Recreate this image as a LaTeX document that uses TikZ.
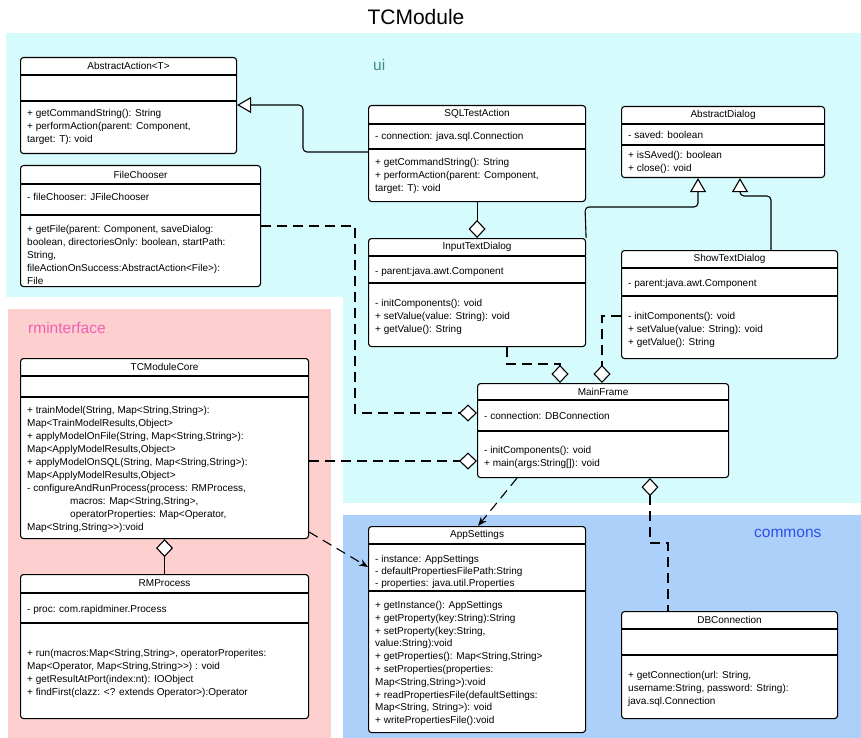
\documentclass[tikz,border=0pt]{standalone}
\usepackage{fontspec}
\setmainfont[Ligatures=TeXOff]{Liberation Sans}
\usetikzlibrary{arrows.meta}
\definecolor{uibg}{RGB}{214,251,253}
\definecolor{rmbg}{RGB}{253,207,207}
\definecolor{cmbg}{RGB}{172,208,250}
\definecolor{uitext}{RGB}{60,140,140}
\definecolor{rmtext}{RGB}{240,95,180}
\definecolor{cmtext}{RGB}{45,80,235}

\begin{document}
\begin{tikzpicture}[x=1pt, y=-1pt,
  classbox/.style 2 args={draw, fill=white, line width=1.1pt, rounded corners=3pt,
    anchor=north west, inner sep=0pt, minimum width=#1pt, minimum height=#2pt},
  classname/.style={font=\fontsize{10}{12}\selectfont, inner sep=0pt},
  members/.style={anchor=north west, align=left, inner sep=0pt,
    font=\fontsize{10}{13}\selectfont},
  rule/.style={line width=1.1pt},
  pkg/.style={font=\fontsize{15.5}{18}\selectfont, anchor=west, inner sep=0pt},
  assoc/.style={line width=1.1pt},
  dep/.style={line width=1.1pt, dash pattern=on 10pt off 6pt},
  inherit/.style={line width=1.1pt, rounded corners=4pt,
    -{Triangle[fill=white, length=14pt, width=16pt]}},
  diamondend/.style={-{Diamond[fill=white, length=18pt, width=17pt]}},
  diamondstart/.style={{Diamond[fill=white, length=18pt, width=17pt]}-},
  uses/.style={-{Stealth[length=9pt, width=7pt]}},
]
\useasboundingbox (0,0) rectangle (861,738);

% Package areas
\fill[uibg] (6,33) rectangle (861,503);
\fill[white] (0,297) rectangle (343,738);
\fill[rmbg] (8,309) rectangle (331,738);
\fill[cmbg] (343,515) rectangle (861,738);

\node[font=\fontsize{21}{25}\selectfont, inner sep=0pt] (title) at (416,17) {TCModule};
\node[pkg, text=uitext] (uilabel) at (373,65) {ui};
\node[pkg, text=rmtext] (rmlabel) at (28,328) {rminterface};
\node[pkg, text=cmtext] (cmlabel) at (754,533) {commons};

% ui
\node[classbox={216}{96}] (absaction) at (20,57) {};
\node[classname] (absaction-t) at (absaction.north |- 0,66) {AbstractAction<T>};
\draw[rule] (absaction.west |- 0,75) -- (absaction.east |- 0,75)
  (absaction.west |- 0,101) -- (absaction.east |- 0,101);
\node[members] (absaction-o) at (27,109) {+ getCommandString(): String\\
  + performAction(parent: Component,\\target: T): void};

\node[classbox={240}{121}] (filechooser) at (20,165) {};
\node[classname] (filechooser-t) at (filechooser.north |- 0,174.5) {FileChooser};
\draw[rule] (filechooser.west |- 0,184) -- (filechooser.east |- 0,184)
  (filechooser.west |- 0,215) -- (filechooser.east |- 0,215);
\node[members] (filechooser-a) at (27,193) {- fileChooser: JFileChooser};
\node[members] (filechooser-o) at (27,225) {+ getFile(parent: Component, saveDialog:\\
  boolean, directoriesOnly: boolean, startPath:\\String,\\
  fileActionOnSuccess:AbstractAction<File>):\\File};

\node[classbox={217}{96}] (sqlaction) at (368,105) {};
\node[classname] (sqlaction-t) at (sqlaction.north |- 0,114) {SQLTestAction};
\draw[rule] (sqlaction.west |- 0,124) -- (sqlaction.east |- 0,124)
  (sqlaction.west |- 0,149) -- (sqlaction.east |- 0,149);
\node[members] (sqlaction-a) at (375,132) {- connection: java.sql.Connection};
\node[members] (sqlaction-o) at (375,158) {+ getCommandString(): String\\
  + performAction(parent: Component,\\target: T): void};

\node[classbox={203}{71}] (absdialog) at (621,106) {};
\node[classname] (absdialog-t) at (absdialog.north |- 0,115) {AbstractDialog};
\draw[rule] (absdialog.west |- 0,124) -- (absdialog.east |- 0,124)
  (absdialog.west |- 0,145) -- (absdialog.east |- 0,145);
\node[members] (absdialog-a) at (628,131) {- saved: boolean};
\node[members] (absdialog-o) at (628,151) {+ isSAved(): boolean\\+ close(): void};

\node[classbox={217}{108}] (inputdialog) at (368,238) {};
\node[classname] (inputdialog-t) at (inputdialog.north |- 0,247) {InputTextDialog};
\draw[rule] (inputdialog.west |- 0,256) -- (inputdialog.east |- 0,256)
  (inputdialog.west |- 0,283) -- (inputdialog.east |- 0,283);
\node[members] (inputdialog-a) at (375,267) {- parent:java.awt.Component};
\node[members] (inputdialog-o) at (375,299) {- initComponents(): void\\
  + setValue(value: String): void\\+ getValue(): String};

\node[classbox={216}{108}] (showdialog) at (621,250) {};
\node[classname] (showdialog-t) at (showdialog.north |- 0,259) {ShowTextDialog};
\draw[rule] (showdialog.west |- 0,268) -- (showdialog.east |- 0,268)
  (showdialog.west |- 0,296) -- (showdialog.east |- 0,296);
\node[members] (showdialog-a) at (628,279) {- parent:java.awt.Component};
\node[members] (showdialog-o) at (628,312) {- initComponents(): void\\
  + setValue(value: String): void\\+ getValue(): String};

\node[classbox={251}{94}] (mainframe) at (477,383) {};
\node[classname] (mainframe-t) at (mainframe.north |- 0,392) {MainFrame};
\draw[rule] (mainframe.west |- 0,400) -- (mainframe.east |- 0,400)
  (mainframe.west |- 0,431) -- (mainframe.east |- 0,431);
\node[members] (mainframe-a) at (484,412) {- connection: DBConnection};
\node[members] (mainframe-o) at (484,446) {- initComponents(): void\\
  + main(args:String[]): void};

% rminterface
\node[classbox={288}{180}] (core) at (20,358) {};
\node[classname] (core-t) at (core.north |- 0,367) {TCModuleCore};
\draw[rule] (core.west |- 0,376) -- (core.east |- 0,376)
  (core.west |- 0,397) -- (core.east |- 0,397);
\node[members] (core-o) at (27,406) {+ trainModel(String, Map<String,String>):\\
  Map<TrainModelResults,Object>\\
  + applyModelOnFile(String, Map<String,String>):\\
  Map<ApplyModelResults,Object>\\
  + applyModelOnSQL(String, Map<String,String>):\\
  Map<ApplyModelResults,Object>\\
  - configureAndRunProcess(process: RMProcess,\\
  \hspace*{43pt}macros: Map<String,String>,\\
  \hspace*{43pt}operatorProperties: Map<Operator,\\
  Map<String,String>>):void};

\node[classbox={288}{144}] (rmprocess) at (20,574) {};
\node[classname] (rmprocess-t) at (rmprocess.north |- 0,583) {RMProcess};
\draw[rule] (rmprocess.west |- 0,593) -- (rmprocess.east |- 0,593)
  (rmprocess.west |- 0,623) -- (rmprocess.east |- 0,623);
\node[members] (rmprocess-a) at (27,605) {- proc: com.rapidminer.Process};
\node[members] (rmprocess-o) at (27,649) {+ run(macros:Map<String,String>, operatorProperites:\\
  Map<Operator, Map<String,String>>) : void\\
  + getResultAtPort(index:nt): IOObject\\
  + findFirst(clazz: <? extends Operator>):Operator};

% commons
\node[classbox={217}{206}] (settings) at (368,526) {};
\node[classname] (settings-t) at (settings.north |- 0,535) {AppSettings};
\draw[rule] (settings.west |- 0,544) -- (settings.east |- 0,544)
  (settings.west |- 0,591) -- (settings.east |- 0,591);
\node[members, font=\fontsize{10}{12.2}\selectfont] (settings-a) at (375,555)
  {- instance: AppSettings\\- defaultPropertiesFilePath:String\\
  - properties: java.util.Properties};
\node[members, font=\fontsize{10}{12.8}\selectfont] (settings-o) at (375,601)
  {+ getInstance(): AppSettings\\+ getProperty(key:String):String\\
  + setProperty(key:String,\\value:String):void\\
  + getProperties(): Map<String,String>\\+ setProperties(properties:\\
  Map<String,String>):void\\+ readPropertiesFile(defaultSettings:\\
  Map<String, String>): void\\+ writePropertiesFile():void};

\node[classbox={216}{107}] (dbconn) at (621,611) {};
\node[classname] (dbconn-t) at (dbconn.north |- 0,620) {DBConnection};
\draw[rule] (dbconn.west |- 0,629) -- (dbconn.east |- 0,629)
  (dbconn.west |- 0,655) -- (dbconn.east |- 0,655);
\node[members] (dbconn-o) at (628,671) {+ getConnection(url: String,\\
  username:String, password: String):\\java.sql.Connection};

% Generalisations
\draw[inherit] (sqlaction.west |- 0,152) -- (303,152) -- (303,105)
  -- (absaction.east |- 0,105);
\draw[inherit] (inputdialog.north east) -- (585,207) -- (698,207)
  -- (absdialog.south -| 698,0);
\draw[inherit] (showdialog.north -| 771,0) -- (771,196) -- (740,196)
  -- (absdialog.south -| 740,0);

% Aggregations
\draw[assoc, diamondend] (sqlaction.south) -- (inputdialog.north);
\draw[assoc, diamondstart] (core.south) -- (rmprocess.north);
\draw[dep, diamondend] (inputdialog.south -| 507,0) -- (507,364) -- (560,364)
  -- (mainframe.north -| 560,0);
\draw[dep, diamondend] (showdialog.west |- 0,316) -- (602,316)
  -- (mainframe.north -| 602,0);
\draw[dep, diamondend] (filechooser.east |- 0,226) -- (355,226) -- (355,413)
  -- (mainframe.west |- 0,413);
\draw[dep, diamondend] (core.east |- 0,461) -- (mainframe.west |- 0,461);
\draw[dep, diamondstart] (mainframe.south -| 650,0) -- (650,543) -- (668,543)
  -- (dbconn.north -| 668,0);

% Dependencies
\draw[dep, uses] (mainframe.south -| 517,0) -- (settings.north -| 478,0);
\draw[dep, uses] (core.east |- 0,532) -- (settings.west |- 0,567);
\end{tikzpicture}
\end{document}
